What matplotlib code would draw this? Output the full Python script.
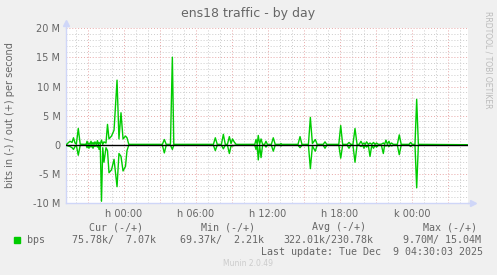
import matplotlib
matplotlib.use("Agg")
import matplotlib.pyplot as plt
from matplotlib.ticker import MultipleLocator

# hours relative to Tue Dec 9 00:00, samples (values in M bits/s)
t_h = [-4.83, -4.75, -4.67, -4.5, -4.33, -4.21, -4.08, -3.97, -3.81, -3.65, -3.2,
       -3.15, -3.08, -3.0, -2.92, -2.83, -2.75, -2.67, -2.58, -2.5, -2.42,
       -2.32, -2.21, -2.15, -2.08, -1.98, -1.875, -1.77, -1.67, -1.5, -1.375,
       -1.25, -1.04, -0.83, -0.58, -0.42, -0.25, -0.08, 0.125, 0.25, 0.4,
       3.2, 3.36, 3.52, 3.87, 4.03, 4.15,
       7.45, 7.61, 7.77, 8.12, 8.28, 8.44, 8.62, 8.78, 8.92, 9.04, 9.21, 9.35,
       10.9, 11.0, 11.1, 11.19, 11.3, 11.42, 11.55, 11.72, 11.83, 11.95,
       12.28, 12.44, 12.6, 13.0, 13.08, 13.16,
       14.5, 14.67, 14.83, 15.37, 15.53, 15.7, 15.94, 16.1, 16.6, 16.75, 16.9,
       17.9, 18.06, 18.22, 18.6, 18.75, 18.9, 19.08, 19.25, 19.42,
       19.6, 19.75, 19.88, 20.0, 20.1, 20.22, 20.36, 20.5, 20.65, 20.79, 20.92,
       21.04, 21.2, 21.45, 21.61, 21.72, 21.83, 21.95, 22.08, 22.18, 22.29, 22.45,
       22.78, 22.94, 23.1, 23.75, 23.89, 24.02, 24.25, 24.39, 24.53, 28.6]
out_m = [0.07, 0.1, 0.3, 0.6, 0.4, 1.2, 0.3, 0.1, 2.8, 0.1, 0.07,
         0.07, 0.6, 0.07, 0.3, 0.07, 0.6, 0.07, 0.4, 0.07, 0.5,
         0.07, 0.7, 0.07, 0.4, 0.07, 0.8, 0.07, 0.5, 0.3, 3.5,
         1.0, 1.5, 2.5, 11.1, 1.0, 5.5, 1.0, 1.5, 1.2, 0.07,
         0.07, 0.9, 0.07, 0.07, 15.04, 0.07,
         0.07, 1.2, 0.07, 0.07, 1.8, 0.07, 0.07, 1.4, 0.2, 1.0, 0.4, 0.07,
         0.07, 0.9, 0.07, 1.6, 0.07, 1.0, 0.07, 0.07, 0.6, 0.07,
         0.07, 1.2, 0.07, 0.07, 0.2, 0.07,
         0.07, 1.4, 0.07, 0.07, 4.7, 0.2, 0.9, 0.07, 0.07, 0.5, 0.07,
         0.07, 3.3, 0.07, 0.07, 0.4, 0.07, 0.07, 2.8, 0.07,
         0.07, 0.6, 0.07, 0.3, 0.07, 0.5, 0.07, 0.3, 0.07, 0.4, 0.07,
         0.3, 0.07, 0.1, 0.3, 0.07, 0.8, 0.07, 0.6, 0.07, 0.3, 0.07,
         0.07, 1.7, 0.07, 0.07, 0.4, 0.07, 0.07, 7.8, 0.07, 0.007]
in_m = [-0.07, -0.1, -0.2, -0.3, -0.5, -0.8, -0.3, -0.1, -1.8, -0.1, -0.07,
        -0.07, -0.5, -0.07, -0.6, -0.07, -0.4, -0.07, -0.6, -0.07, -0.3,
        -0.07, -0.4, -0.07, -0.8, -0.07, -9.7, -0.5, -3.0, -0.5, -1.0,
        -4.8, -4.3, -2.5, -7.2, -1.5, -2.0, -4.5, -3.7, -1.0, -0.07,
        -0.07, -1.4, -0.07, -0.07, -0.8, -0.07,
        -0.07, -1.0, -0.07, -0.07, -0.7, -0.07, -0.07, -1.5, -0.2, -0.2, -0.1, -0.07,
        -0.07, -0.8, -0.07, -2.6, -0.07, -2.2, -0.07, -0.07, -0.4, -0.07,
        -0.07, -1.1, -0.07, -0.07, -0.2, -0.07,
        -0.07, -0.5, -0.07, -0.07, -4.1, -0.2, -1.1, -0.07, -0.07, -0.6, -0.07,
        -0.07, -2.3, -0.07, -0.07, -0.6, -0.07, -0.07, -3.0, -0.07,
        -0.07, -0.3, -0.07, -0.6, -0.07, -0.4, -0.07, -2.0, -0.07, -0.6, -0.07,
        -0.4, -0.07, -0.1, -1.5, -0.07, -0.2, -0.07, -0.3, -0.07, -0.2, -0.07,
        -0.07, -1.7, -0.07, -0.07, -0.3, -0.07, -0.07, -7.4, -0.07, -0.076]

grid_hours = [-3, 0, 3, 6, 9, 12, 15, 18, 21, 24, 27]
grid_labels = ["", "h 00:00", "", "h 06:00", "", "h 12:00", "", "h 18:00", "", "k 00:00", ""]
yticks = [-10, -5, 0, 5, 10, 15, 20]
ylabels = ["-10 M", "-5 M", "0", "5 M", "10 M", "15 M", "20 M"]

headers = ["Cur (-/+)", "Min (-/+)", "Avg (-/+)", "Max (-/+)"]
values = ["75.78k/  7.07k", "69.37k/  2.21k", "322.01k/230.78k", "9.70M/ 15.04M"]

FONT = "#666666"
AXIS = "#CFD6F8"
GREEN = "#00CC00"

fig = plt.figure(figsize=(4.97, 2.75), dpi=100, facecolor="#F0F0F0")
ax = fig.add_axes([66 / 497, 72 / 275, 402 / 497, 174.7 / 275])
ax.set_facecolor("white")

ax.set_xlim(-4.833, 28.667)
ax.set_ylim(-10, 20)

# grid: minor every hour / 1M, major every 3h / 5M
ax.set_xticks(grid_hours, labels=grid_labels)
ax.xaxis.set_minor_locator(MultipleLocator(1))
ax.set_yticks(yticks, labels=ylabels)
ax.yaxis.set_minor_locator(MultipleLocator(1))
ax.grid(which="minor", color="#CCCCCC", lw=0.7, ls=(0, (1, 2)))
ax.grid(which="major", color="#E8A8A8", lw=0.7, ls=(0, (1, 2)))
ax.set_axisbelow(True)
ax.tick_params(which="both", length=0, labelsize=7, colors=FONT)
ax.tick_params(axis="x", pad=4)
ax.tick_params(axis="y", pad=4)

for s in ["top", "right"]:
    ax.spines[s].set_visible(False)
for s in ["left", "bottom"]:
    ax.spines[s].set_color(AXIS)
    ax.spines[s].set_linewidth(1)

# arrows at axis ends
ax.plot([0, 0], [1, 1.025], color=AXIS, lw=1, transform=ax.transAxes, clip_on=False)
ax.plot([0], [1.03], marker="^", ms=4, color=AXIS, transform=ax.transAxes, clip_on=False)
ax.plot([1, 1.01], [0, 0], color=AXIS, lw=1, transform=ax.transAxes, clip_on=False)
ax.plot([1.012], [0], marker=">", ms=4, color=AXIS, transform=ax.transAxes, clip_on=False)

ax.plot(t_h, out_m, color=GREEN, lw=1.0, zorder=3)
ax.plot(t_h, in_m, color=GREEN, lw=1.0, zorder=3)
ax.axhline(0, color="black", lw=1.0, zorder=4)

fig.text(248 / 497, 1 - 13 / 275, "ens18 traffic - by day", ha="center", va="center",
         fontsize=9, color=FONT)
fig.text(10 / 497, 1 - 115 / 275, "bits in (-) / out (+) per second", rotation=90,
         ha="center", va="center", fontsize=7, color=FONT)
fig.text(488 / 497, 1 - 60 / 275, "RRDTOOL / TOBI OETIKER", rotation=270,
         ha="center", va="center", fontsize=5.5, color="#BBBBBB")

mono = "DejaVu Sans Mono"
hx = [89, 201, 312, 423]
vx = [72, 180, 283, 403]
for x, h in zip(hx, headers):
    fig.text(x / 497, 1 - 227 / 275, h, family=mono, fontsize=7.2, color=FONT,
             ha="left", va="center")
for x, v in zip(vx, values):
    fig.text(x / 497, 1 - 240 / 275, v, family=mono, fontsize=7.2, color=FONT,
             ha="left", va="center")
fig.patches.append(plt.Rectangle((14 / 497, 1 - 243 / 275), 6 / 497, 6 / 275,
                                 transform=fig.transFigure, color=GREEN))
fig.text(27 / 497, 1 - 240 / 275, "bps", family=mono, fontsize=7.2, color=FONT,
         ha="left", va="center")
fig.text(483 / 497, 1 - 252 / 275, "Last update: Tue Dec  9 04:30:03 2025", family=mono,
         fontsize=7.2, color=FONT, ha="right", va="center")
fig.text(248 / 497, 1 - 264 / 275, "Munin 2.0.49", fontsize=5.5, color="#CCCCCC",
         ha="center", va="center")

fig.savefig("out.png", dpi=100, facecolor=fig.get_facecolor())
